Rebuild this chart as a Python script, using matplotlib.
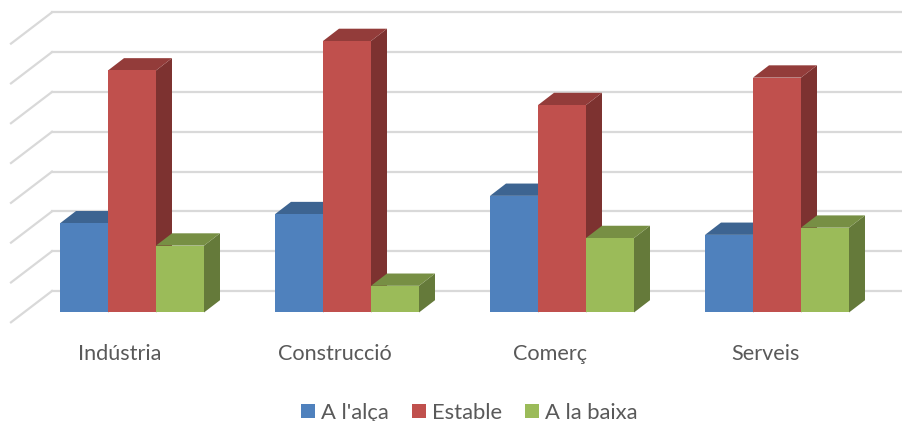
# -*- coding: utf-8 -*-
import numpy as np
import matplotlib
matplotlib.use('Agg')
import matplotlib.pyplot as plt
from matplotlib.patches import Patch

# Data (%)
categories = ['Indústria', 'Construcció', 'Comerç', 'Serveis']
series_names = ["A l'alça", 'Estable', 'A la baixa']
alca = [22.4, 24.7, 29.3, 19.5]
estable = [60.8, 68.2, 52.1, 59.0]
baixa = [16.8, 6.7, 18.7, 21.3]
grid_values = [0, 10, 20, 30, 40, 50, 60, 70]

series = [alca, estable, baixa]
front_cols = ['#4F81BD', '#C0504D', '#9BBB59']
top_cols = ['#3D6491', '#933C3A', '#778F44']
side_cols = ['#34547A', '#7D3230', '#657A3A']

plt.rcParams['font.family'] = ['Lato', 'DejaVu Sans']
text_col = '#595959'

fig = plt.figure(figsize=(9.02, 4.21), dpi=100)
ax = fig.add_axes([0, 0, 1, 1])
ax.set_xlim(-132 / 215, 770 / 215)
ax.set_ylim(-27.26, 78.5)
ax.axis('off')

# 3D look, in axis units
bar_w = 48 / 215
dx = 16 / 215
dy = 3.09
wall_back = -80 / 215
wall_front = -121 / 215
off_back = 5.4
off_front = -2.46

# Walls
for v in grid_values:
    ax.plot([wall_front, wall_back], [v + off_front, v + off_back], color='#D9D9D9', lw=1.6, zorder=1)
    ax.plot([wall_back, 770 / 215], [v + off_back, v + off_back], color='#D9D9D9', lw=1.6, zorder=1)

# Bars, left to right so the nearer faces hide the others
z = 2
for i in range(len(categories)):
    for s in range(len(series)):
        x0 = i + (s - 1.5) * bar_w
        x1 = x0 + bar_w
        h = series[s][i]
        ax.fill([x1, x1 + dx, x1 + dx, x1], [0, dy, h + dy, h], color=side_cols[s], lw=0, zorder=z)
        ax.fill([x0, x1, x1 + dx, x0 + dx], [h, h, h + dy, h + dy], color=top_cols[s], lw=0, zorder=z)
        ax.bar(x0, h, width=bar_w, align='edge', color=front_cols[s], lw=0, zorder=z + 1)
        z += 2

# Category labels
for i, name in enumerate(categories):
    ax.text(i - 12 / 215, -10.4, name, ha='center', va='center', fontsize=15.6, color=text_col)

handles = [Patch(color=c, lw=0) for c in front_cols]
ax.legend(handles, series_names, loc='center', bbox_to_anchor=(0.52, 0.0198), ncol=3, frameon=False,
          fontsize=15.8, labelcolor=text_col, handlelength=0.64, handleheight=0.64, handletextpad=0.27,
          columnspacing=1.05, borderpad=0)

plt.savefig('out.png', dpi=100)
